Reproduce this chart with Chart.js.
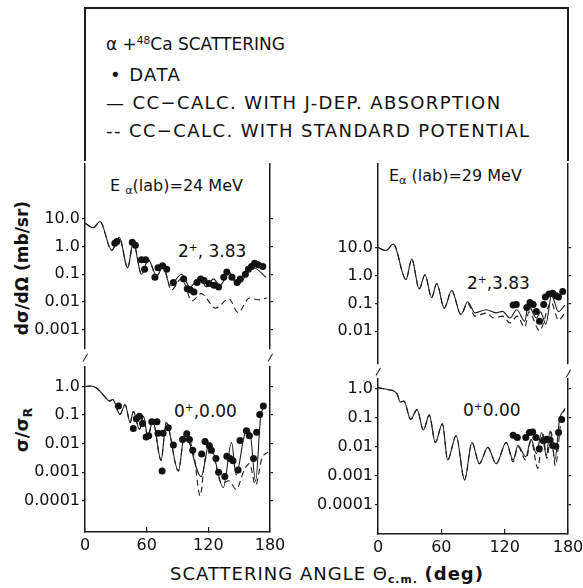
<!DOCTYPE html>
<html>
<head>
<meta charset="utf-8">
<script src="https://cdn.jsdelivr.net/npm/chart.js@4.4.1/dist/chart.umd.min.js"></script>
<style>
  body { margin: 0; background: #fff; }
  #page { position: relative; width: 583px; height: 588px; overflow: hidden; font-family: "DejaVu Sans", sans-serif; color: #111; }
  canvas { position: absolute; }
  .txt { position: absolute; white-space: nowrap; line-height: 1; }
  .rule { position: absolute; background: #1c1c1c; }
  .brk { position: absolute; width: 9px; height: 1.4px; background: #1c1c1c; transform: rotate(-60deg); }
  .rot { position: absolute; white-space: nowrap; line-height: 1; transform: translate(-50%, -50%) rotate(-90deg); font-weight: bold; }
  sup { font-size: 62%; vertical-align: 0.55em; line-height: 0; }
  sub { font-size: 70%; vertical-align: -0.3em; line-height: 0; }
</style>
</head>
<body>
<div id="page">
  <div class="rule" style="left:84px;top:7px;width:485px;height:1.5px"></div>
  <div class="rule" style="left:84.3px;top:7px;width:1.5px;height:154px"></div>
  <div class="rule" style="left:567.3px;top:7px;width:1.5px;height:154px"></div>

  <div class="txt" style="left:106px;top:36px;font-size:17px">α +<sup>48</sup>Ca SCATTERING</div>
  <div class="txt" style="left:110px;top:66px;font-size:18px;letter-spacing:1.4px">• DATA</div>
  <div class="txt" style="left:106px;top:94px;font-size:18px;letter-spacing:1.4px">— CC−CALC. WITH J-DEP. ABSORPTION</div>
  <div class="txt" style="left:106px;top:122px;font-size:18px;letter-spacing:1.4px">-- CC−CALC. WITH STANDARD POTENTIAL</div>

  <div class="txt" style="left:110px;top:178px;font-size:16px">E <sub>α</sub>(lab)=24 MeV</div>
  <div class="txt" style="left:389px;top:168px;font-size:16px">E<sub>α</sub> (lab)=29 MeV</div>

  <div class="txt" style="left:178px;top:243px;font-size:17px">2<sup>+</sup>, 3.83</div>
  <div class="txt" style="left:467px;top:275px;font-size:17px">2<sup>+</sup>,3.83</div>
  <div class="txt" style="left:174px;top:403px;font-size:17px">0<sup>+</sup>,0.00</div>
  <div class="txt" style="left:463px;top:402px;font-size:17px">0<sup>+</sup>0.00</div>

  <div class="rot" style="left:22px;top:268px;font-size:17px">dσ/dΩ (mb/sr)</div>
  <div class="rot" style="left:22px;top:430px;font-size:18px">σ/σ<sub>R</sub></div>

  <div class="txt" style="left:170px;top:565px;font-size:18px;letter-spacing:1px">SCATTERING ANGLE Θ<sub style="font-weight:bold;font-size:60%">c.m.</sub> <b>(deg)</b></div>

  <div class="brk" style="left:80.5px;top:357px"></div>
  <div class="brk" style="left:265.5px;top:357px"></div>
  <div class="brk" style="left:373.5px;top:371px"></div>
  <div class="brk" style="left:563.5px;top:373px"></div>

  <canvas id="ul" width="265" height="193" style="left:21px;top:160px"></canvas>
  <canvas id="ll" width="265" height="195" style="left:21px;top:363px"></canvas>
  <canvas id="ur" width="270" height="208" style="left:314px;top:160px"></canvas>
  <canvas id="lr" width="270" height="185" style="left:314px;top:375px"></canvas>
</div>
<script>
Chart.defaults.font.family = '"DejaVu Sans", sans-serif'
Chart.defaults.color = '#111'

const angTicks = [0, 60, 120, 180]

// 24 MeV, 2+ 3.83
const ulTicks = [10, 1, 0.1, 0.01, 0.001]
const ulTickText = ['10.0', '1.0', '0.1', '0.01', '0.001']
const ulSolidAng = [0, 8, 14.6, 26, 33.4, 41.5, 47, 55, 61.6, 69.7, 76, 82.7, 94, 102, 112, 118, 125, 131, 141, 147.6, 164, 176]
const ulSolidVal = [6.9, 4.7, 7.9, 0.72, 2.1, 0.17, 1.4, 0.10, 0.33, 0.087, 0.19, 0.04, 0.10, 0.035, 0.078, 0.035, 0.068, 0.04, 0.115, 0.04, 0.17, 0.078]
const ulDashAng = [0, 8, 14.6, 26, 33.4, 41.5, 47, 55, 61.6, 69.7, 76, 84, 94, 104, 113, 127, 140, 149, 160, 168, 177]
const ulDashVal = [6.9, 4.7, 7.9, 0.72, 2.1, 0.17, 1.4, 0.10, 0.33, 0.087, 0.19, 0.027, 0.07, 0.011, 0.02, 0.006, 0.013, 0.0042, 0.014, 0.012, 0.014]
const ulDotAng = [29, 31, 46, 49, 55, 58, 59, 68, 71, 75.5, 79.5, 86, 96, 99.5, 102.6, 106, 109, 112.6, 115.8, 120.6, 125.5, 130, 135, 138, 143, 148, 151, 156, 159, 162, 165, 168.5, 173]
const ulDotVal = [1.3, 1.5, 1.4, 1.1, 0.33, 0.15, 0.33, 0.078, 0.17, 0.2, 0.15, 0.05, 0.068, 0.03, 0.027, 0.023, 0.05, 0.068, 0.059, 0.046, 0.04, 0.035, 0.078, 0.12, 0.078, 0.05, 0.068, 0.1, 0.15, 0.19, 0.25, 0.22, 0.19]

// 24 MeV, 0+ 0.00
const llTicks = [1, 0.1, 0.01, 0.001, 0.0001]
const llTickText = ['1.0', '0.1', '0.01', '0.001', '0.0001']
const llSolidAng = [0, 6, 12, 19, 24, 27, 34, 39, 44, 47, 53, 57, 61, 66, 74, 79, 90.8, 97, 113, 121, 134.5, 142.6, 147, 155, 160, 166, 171, 176]
const llSolidVal = [1.0, 1.05, 0.85, 0.45, 0.31, 0.35, 0.105, 0.23, 0.055, 0.135, 0.032, 0.091, 0.017, 0.062, 0.0026, 0.055, 0.0011, 0.022, 0.0007, 0.011, 0.00029, 0.011, 0.0008, 0.019, 0.032, 0.00048, 0.091, 0.23]
const llDashAng = [0, 6, 12, 19, 24, 27, 34, 39, 44, 47, 53, 57, 61, 66, 74, 79, 90.8, 97, 106, 112, 117, 123, 133, 140, 147, 155, 160, 166, 172, 178]
const llDashVal = [1.0, 1.05, 0.85, 0.45, 0.31, 0.35, 0.105, 0.23, 0.055, 0.135, 0.032, 0.091, 0.017, 0.062, 0.0026, 0.055, 0.0011, 0.022, 0.004, 0.00015, 0.003, 0.005, 0.0004, 0.0005, 0.00025, 0.0012, 0.002, 0.00035, 0.003, 0.005]
const llDotAng = [32.6, 47, 50, 53, 56, 59.5, 62, 65, 70, 71, 75, 76, 81, 86, 95, 99, 101.6, 104.8, 113.5, 116.8, 121, 123, 127.4, 130, 136, 138, 141, 144, 149, 150.8, 157, 160, 164, 167, 170, 173.5]
const llDotVal = [0.21, 0.034, 0.074, 0.091, 0.051, 0.017, 0.019, 0.058, 0.058, 0.023, 0.0011, 0.023, 0.036, 0.009, 0.014, 0.022, 0.014, 0.0059, 0.0043, 0.012, 0.0085, 0.0059, 0.003, 0.001, 0.0007, 0.0036, 0.003, 0.0025, 0.0012, 0.013, 0.028, 0.019, 0.003, 0.025, 0.105, 0.21]

// 29 MeV, 2+ 3.83
const urTicks = [10, 1, 0.1, 0.01]
const urTickText = ['10.0', '1.0', '0.1', '0.01']
const urSolidAng = [0, 7.6, 14.5, 26.5, 32, 39, 44.5, 50.8, 55.6, 62.8, 69.8, 78.6, 84.9, 91.9, 102.5, 112, 118, 125, 131.5, 139, 142.5, 150, 154, 159, 164.4, 171, 177]
const urSolidVal = [10.2, 7.9, 13.5, 0.72, 3.9, 0.33, 1.07, 0.16, 0.52, 0.068, 0.29, 0.04, 0.115, 0.046, 0.059, 0.046, 0.052, 0.03, 0.059, 0.023, 0.087, 0.03, 0.05, 0.018, 0.19, 0.051, 0.087]
const urDashAng = [0, 7.6, 14.5, 26.5, 32, 39, 44.5, 50.8, 55.6, 62.8, 69.8, 78.6, 84.9, 91.9, 102.5, 110, 118, 125, 132, 139, 143, 153, 164, 171, 177]
const urDashVal = [10.2, 7.9, 13.5, 0.72, 3.9, 0.33, 1.07, 0.16, 0.52, 0.068, 0.29, 0.04, 0.1, 0.035, 0.045, 0.03, 0.035, 0.02, 0.035, 0.014, 0.05, 0.0105, 0.11, 0.025, 0.046]
const urDotAng = [128, 131, 141, 144, 147, 150, 153, 157, 158.5, 162, 165.5, 168.5, 171, 175]
const urDotVal = [0.087, 0.091, 0.071, 0.107, 0.091, 0.051, 0.023, 0.091, 0.17, 0.22, 0.23, 0.19, 0.17, 0.27]

// 29 MeV, 0+ 0.00
const lrTicks = [1, 0.1, 0.01, 0.001, 0.0001]
const lrTickText = ['1.0', '0.1', '0.01', '0.001', '0.0001']
const lrSolidAng = [0, 10, 18, 21, 24.6, 30.9, 37, 43, 48.6, 54.3, 61, 66, 74, 82, 89, 96, 104, 112, 121.5, 128, 132.6, 140, 145, 150, 155, 159.5, 163, 167.6, 172, 177]
const lrSolidVal = [1.07, 0.93, 0.68, 0.35, 0.38, 0.087, 0.19, 0.038, 0.126, 0.014, 0.062, 0.0035, 0.024, 0.00072, 0.014, 0.0026, 0.0095, 0.0026, 0.014, 0.0035, 0.011, 0.0045, 0.018, 0.0058, 0.031, 0.005, 0.035, 0.0035, 0.087, 0.19]
const lrDashAng = [0, 10, 18, 21, 24.6, 30.9, 37, 43, 48.6, 54.3, 61, 66, 74, 82, 89, 96, 104, 112, 121.5, 128, 132.6, 140, 145, 151.5, 156, 160, 164, 168, 173.7, 177]
const lrDashVal = [1.07, 0.93, 0.68, 0.35, 0.38, 0.087, 0.19, 0.038, 0.126, 0.014, 0.062, 0.0035, 0.024, 0.00072, 0.014, 0.0026, 0.0095, 0.0026, 0.014, 0.003, 0.01, 0.0035, 0.016, 0.0018, 0.028, 0.004, 0.033, 0.0022, 0.1, 0.21]
const lrDotAng = [128, 132, 140, 143.5, 146.5, 149.6, 152.8, 156.6, 159.7, 163, 165.5, 168.5, 171, 174]
const lrDotVal = [0.025, 0.021, 0.021, 0.031, 0.032, 0.021, 0.0085, 0.016, 0.018, 0.017, 0.011, 0.0105, 0.031, 0.087]

const ink = '#1c1c1c'

function pts(ang, val) {
  return ang.map((a, i) => ({ x: a, y: val[i] }))
}

function noPad(s) {
  s.paddingTop = 0
  s.paddingBottom = 0
  s.paddingLeft = 0
  s.paddingRight = 0
}

function panel(id, p) {
  const data = {
    datasets: [
      {
        data: pts(p.solidAng, p.solidVal),
        showLine: true,
        borderColor: ink,
        borderWidth: 1.1,
        pointRadius: 0,
        cubicInterpolationMode: 'monotone'
      },
      {
        data: pts(p.dashAng, p.dashVal),
        showLine: true,
        borderColor: ink,
        borderWidth: 1.1,
        borderDash: [6, 4],
        pointRadius: 0,
        cubicInterpolationMode: 'monotone'
      },
      {
        data: pts(p.dotAng, p.dotVal),
        showLine: false,
        pointRadius: 3.5,
        pointBackgroundColor: '#111',
        pointBorderWidth: 0
      }
    ]
  }

  const yCommon = {
    type: 'logarithmic',
    min: p.min,
    max: p.max,
    afterBuildTicks: s => { s.ticks = p.ticks.map(v => ({ value: v })) },
    border: { color: ink, width: 1.5 },
    grid: { drawOnChartArea: false, color: ink, lineWidth: 1.2, tickLength: 3 }
  }

  const config = {
    type: 'scatter',
    data: data,
    options: {
      responsive: false,
      animation: false,
      layout: { padding: 0 },
      plugins: { legend: { display: false }, tooltip: { enabled: false } },
      scales: {
        x: {
          type: 'linear',
          min: 0,
          max: 180,
          display: p.showX,
          afterBuildTicks: s => { s.ticks = angTicks.map(v => ({ value: v })) },
          border: { color: ink, width: 1.5 },
          grid: { drawOnChartArea: false, color: ink, lineWidth: 1.2, tickLength: -5 },
          ticks: { font: { size: 16 }, padding: 9, maxRotation: 0, autoSkip: false, callback: v => String(v) },
          afterFit: s => { s.height = p.showX ? 26 : 0; noPad(s) }
        },
        y: {
          ...yCommon,
          position: 'left',
          ticks: { font: { size: 16 }, padding: 2, autoSkip: false, callback: (v, i) => p.tickText[i] },
          afterFit: s => { s.width = 64; noPad(s) }
        },
        yR: {
          ...yCommon,
          position: 'right',
          ticks: { display: false },
          afterFit: s => { s.width = 16; noPad(s) }
        }
      }
    }
  }
  return new Chart(document.getElementById(id), config)
}

panel('ul', {
  min: 0.000204, max: 924, ticks: ulTicks, tickText: ulTickText, showX: false,
  solidAng: ulSolidAng, solidVal: ulSolidVal, dashAng: ulDashAng, dashVal: ulDashVal, dotAng: ulDotAng, dotVal: ulDotVal
})
panel('ll', {
  min: 0.00000805, max: 4.83, ticks: llTicks, tickText: llTickText, showX: true,
  solidAng: llSolidAng, solidVal: llSolidVal, dashAng: llDashAng, dashVal: llDashVal, dotAng: llDotAng, dotVal: llDotVal
})
panel('ur', {
  min: 0.000673, max: 10000, ticks: urTicks, tickText: urTickText, showX: false,
  solidAng: urSolidAng, solidVal: urSolidVal, dashAng: urDashAng, dashVal: urDashVal, dotAng: urDotAng, dotVal: urDotVal
})
panel('lr', {
  min: 0.0000098, max: 2.17, ticks: lrTicks, tickText: lrTickText, showX: true,
  solidAng: lrSolidAng, solidVal: lrSolidVal, dashAng: lrDashAng, dashVal: lrDashVal, dotAng: lrDotAng, dotVal: lrDotVal
})
</script>
</body>
</html>
